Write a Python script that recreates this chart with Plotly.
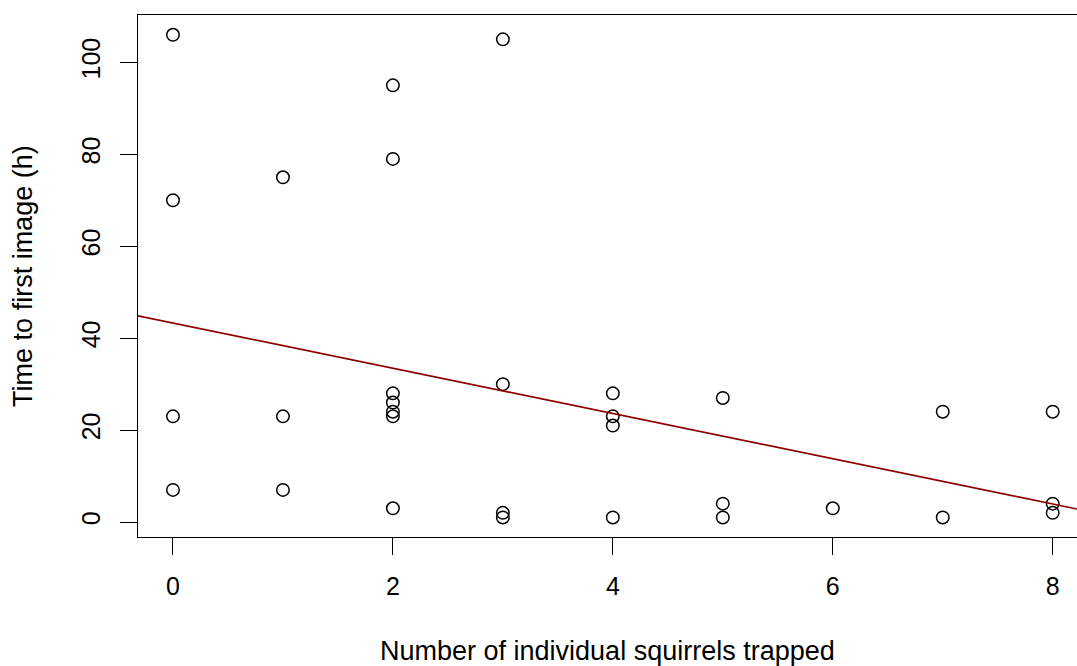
import plotly.graph_objects as go

# Data
squirrels_trapped = [0, 0, 0, 0,
                     1, 1, 1,
                     2, 2, 2, 2, 2, 2, 2,
                     3, 3, 3, 3,
                     4, 4, 4, 4,
                     5, 5, 5,
                     6,
                     7, 7,
                     8, 8, 8]
time_to_first_image = [106, 70, 23, 7,
                       75, 23, 7,
                       95, 79, 28, 26, 24, 23, 3,
                       105, 30, 2, 1,
                       28, 23, 21, 1,
                       27, 4, 1,
                       3,
                       24, 1,
                       24, 4, 2]

# Fitted line
fit_intercept = 43.3
fit_slope = -4.92

x_ticks = [0, 2, 4, 6, 8]
y_ticks = [0, 20, 40, 60, 80, 100]

x_range = [-0.318, 8.221]
y_range = [-3.25, 110.3]

FONT = "Liberation Sans, Arial, sans-serif"

fig = go.Figure()

fig.add_trace(go.Scatter(
    x=squirrels_trapped, y=time_to_first_image,
    mode="markers",
    marker=dict(symbol="circle-open", size=12.5, color="black",
                line=dict(color="black", width=1.5)),
    showlegend=False, hoverinfo="x+y",
))

line_x = x_range
line_y = [fit_intercept + fit_slope * v for v in line_x]
fig.add_trace(go.Scatter(
    x=line_x, y=line_y, mode="lines",
    line=dict(color="#8B0000", width=1.6),
    showlegend=False, hoverinfo="skip",
))

fig.update_layout(
    width=1077, height=666,
    margin=dict(l=138, r=0, t=15, b=129, pad=0),
    paper_bgcolor="white", plot_bgcolor="white",
    font=dict(family=FONT, size=25, color="black"),
    xaxis=dict(
        range=x_range, tickmode="array", tickvals=x_ticks,
        ticktext=[str(v) for v in x_ticks],
        showgrid=False, zeroline=False,
        showline=True, mirror=True, linecolor="black", linewidth=1.3,
        ticks="outside", ticklen=17, tickwidth=1.3, tickcolor="black",
        tickfont=dict(family=FONT, size=25, color="black"),
        ticklabelstandoff=10,
    ),
    yaxis=dict(
        range=y_range, tickmode="array", tickvals=y_ticks,
        ticktext=[str(v) for v in y_ticks],
        showgrid=False, zeroline=False,
        showline=True, mirror=False, linecolor="black", linewidth=1.3,
        ticks="outside", ticklen=17, tickwidth=1.3, tickcolor="black",
        tickangle=-90,
        tickfont=dict(family=FONT, size=25, color="black"),
        ticklabelstandoff=10,
    ),
    annotations=[
        dict(text="Number of individual squirrels trapped",
             xref="paper", yref="paper", x=0.5, y=-0.218,
             xanchor="center", yanchor="middle", showarrow=False,
             font=dict(family=FONT, size=27, color="black")),
        dict(text="Time to first image (h)",
             xref="paper", yref="paper", x=-0.1226, y=0.5,
             xanchor="center", yanchor="middle", textangle=-90,
             showarrow=False,
             font=dict(family=FONT, size=27, color="black")),
    ],
)

fig.write_html(
    "out.html",
    config={"displayModeBar": False},
    post_script="document.body.style.margin='0';"
                "document.body.style.overflow='hidden';",
)
